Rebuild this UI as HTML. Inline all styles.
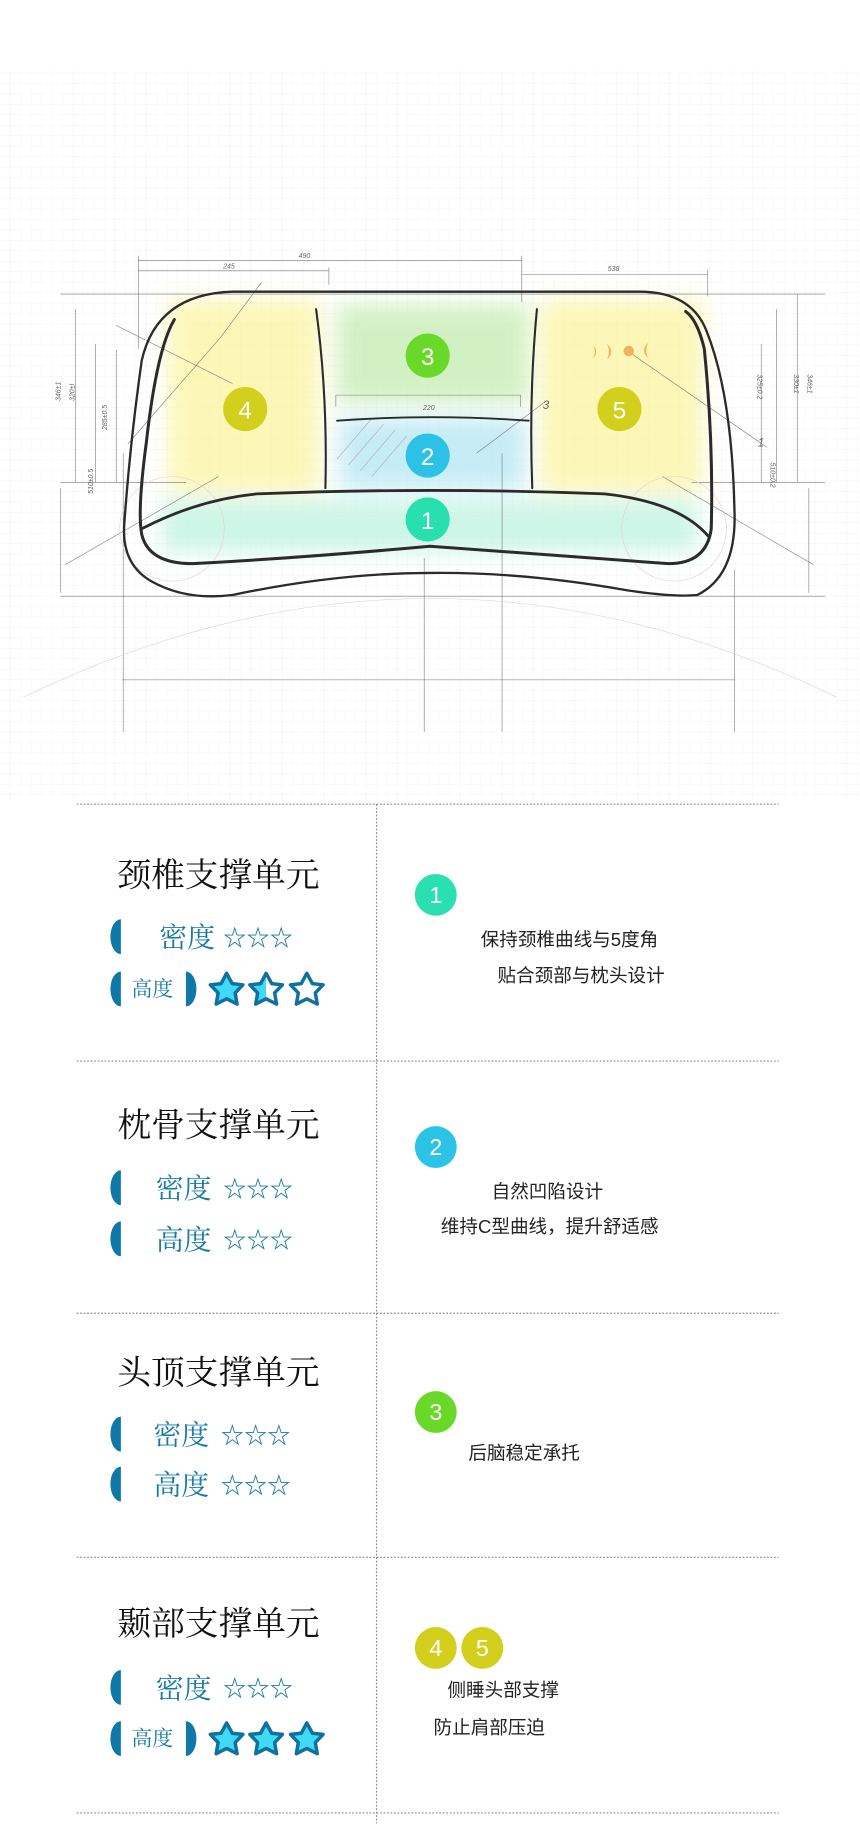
<!DOCTYPE html>
<html><head><meta charset="utf-8"><style>
html,body{margin:0;padding:0;background:#fff;}
svg{display:block;}
.t{font-family:"Liberation Serif","Noto Serif CJK SC",serif;}
.s{font-family:"Liberation Sans","Noto Sans CJK SC",sans-serif;}
</style></head><body>
<svg width="860" height="1824" viewBox="0 0 740 1569.5" xmlns="http://www.w3.org/2000/svg">
<defs>
<pattern id="g" width="9" height="9" patternUnits="userSpaceOnUse"><path d="M9 0V9H0" fill="none" stroke="#eef0f2" stroke-width="0.6"/></pattern>
<filter id="b" x="-30%" y="-30%" width="160%" height="160%"><feGaussianBlur stdDeviation="9"/></filter>
<path id="st" d="M0,-14.5 L4.8,-5.6 14,-4.6 7.3,2.4 9,12 0,7.5 -9,12 -7.3,2.4 -14,-4.6 -4.8,-5.6Z"/>
<linearGradient id="half"><stop offset="50%" stop-color="#40daf6"/><stop offset="50%" stop-color="#fff"/></linearGradient>
</defs>
<rect x="0" y="60" width="740" height="630" fill="url(#g)"/>
<g filter="url(#b)" opacity="0.75">
<rect x="145" y="258" width="130" height="165" fill="#fbf4a0"/>
<rect x="465" y="258" width="140" height="165" fill="#fbf4a0"/>
<rect x="290" y="262" width="165" height="85" fill="#c4edb0"/>
<rect x="292" y="360" width="160" height="60" fill="#b4e6f4"/>
<rect x="140" y="430" width="460" height="45" fill="#bdf3e0"/>
</g>
<g stroke="#777" stroke-width="0.5" fill="none">
<path d="M119 224H449M119 233H283M449 236H609M119 220V300M449 220V260M609 232V255M283 230V245"/>
<path d="M52 253H710M65 266V415M82 296V415M100 301V415M52 415H160M595 415H710M655 296V415M668 266V415M686 253V415M52 513H710"/>
<path d="M52 420V510M696 420V510M56 486L188 410M700 486L570 410M100 280L200 330M190 290L225 243M110 382L190 290M540 302L660 385M410 390L470 345"/>
<path d="M106 390V630M432 390V630M365 480V630M632 490V630M105 585H632M289 340H448M289 340V350M448 340V350"/>
<path d="M290 395L320 360M300 400L330 365M310 405L340 370M320 410L350 375" stroke="#aaa"/>
<path d="M20 600Q370 430 720 600" stroke="#e8c8c8"/>
<circle cx="148" cy="455" r="45" stroke="#e8cccc"/><circle cx="580" cy="455" r="45" stroke="#e8cccc"/>
</g>
<g fill="#666" font-size="6" class="s" font-style="italic">
<text x="257" y="222">490</text><text x="192" y="231">245</text><text x="523" y="233">538</text><text x="364" y="353">220</text><text x="467" y="352" font-size="10">3</text><text x="652" y="384" font-size="10">1</text>
<text transform="translate(52,345) rotate(-90)">346±1</text><text transform="translate(64,345) rotate(-90)">320±l</text><text transform="translate(92,370) rotate(-90)">285±0.5</text><text transform="translate(80,425) rotate(-90)">510±0.5</text>
<text transform="translate(652,322) rotate(90)">325±0.2</text><text transform="translate(663,398) rotate(90)">510±0.2</text><text transform="translate(683,322) rotate(90)">330±1</text><text transform="translate(695,322) rotate(90)">346±1</text>
</g>
<g fill="none" stroke="#2b2b2b" stroke-linecap="round">
<path d="M200 251 L550 251 Q595 251 608 285 Q630 340 632 440 Q634 495 600 512 Q580 514 540 508 Q450 492 370 493 Q290 493 200 512 Q160 517 130 500 Q104 485 107 450 Q112 380 122 310 Q135 253 200 251 Z" stroke-width="2"/>
<path d="M150 275 Q135 300 126 380 Q118 440 122 460 Q128 485 166 485 Q260 480 370 470 Q480 478 575 485 Q608 485 612 455 Q614 380 606 300 Q600 275 590 268" stroke-width="2.6"/>
<path d="M122 455 Q170 430 221 425 Q370 419 520 425 Q585 432 610 462" stroke-width="2.4"/>
<path d="M272 266 Q282 340 280 420" stroke-width="1.8"/>
<path d="M462 266 Q455 340 458 420" stroke-width="1.8"/>
<path d="M290 362 Q370 356 455 362" stroke-width="1.6"/>
</g>
<g fill="#f1b260"><circle cx="541" cy="302" r="4.5"/><path d="M510 297a5 6 0 0 1 0 11a3 6 0 0 0 0-11Z"/><path d="M522 296a6 7 0 0 1 0 13a3 7 0 0 0 0-13Z"/><path d="M558 295a6 7 0 0 0 0 13a3 7 0 0 1 0-13Z"/></g>
<g class="s" font-size="21" fill="#fff" text-anchor="middle">
<circle cx="211" cy="352" r="19" fill="#d2d01c"/><text x="211" y="360">4</text>
<circle cx="368" cy="306" r="19" fill="#6ad828"/><text x="368" y="314">3</text>
<circle cx="533" cy="352" r="19" fill="#d2d01c"/><text x="533" y="360">5</text>
<circle cx="368" cy="392" r="19" fill="#2cc2e6"/><text x="368" y="400">2</text>
<circle cx="368" cy="447" r="19" fill="#28e0ae"/><text x="368" y="455">1</text>
</g>
<g stroke="#888" stroke-width="1" stroke-dasharray="1.5,1.5" fill="none">
<path d="M66 692H670M66 913H670M66 1130H670M66 1340H670M66 1560H670M324 692V1569"/>
</g>
<g class="t" font-size="29" fill="#111" text-anchor="middle">
<text x="188" y="763">颈椎支撑单元</text><text x="188" y="978">枕骨支撑单元</text><text x="188" y="1191">头顶支撑单元</text><text x="188" y="1407">颞部支撑单元</text>
</g>
<g fill="#0f78a8">
<path d="M104 791a9 15 0 0 0 0 30Z"/><path d="M104 836a9 15 0 0 0 0 30Z"/><path d="M160 836a9 15 0 0 1 0 30Z"/>
<path d="M104 1007a9 15 0 0 0 0 30Z"/><path d="M104 1051a9 15 0 0 0 0 30Z"/>
<path d="M104 1219a9 15 0 0 0 0 30Z"/><path d="M104 1262a9 15 0 0 0 0 30Z"/>
<path d="M104 1437a9 15 0 0 0 0 30Z"/><path d="M104 1481a9 15 0 0 0 0 30Z"/><path d="M160 1481a9 15 0 0 1 0 30Z"/>
</g>
<g class="t" fill="#1a7aa6">
<text x="137" y="815" font-size="24">密度</text><text x="192" y="814" font-size="20">☆☆☆</text>
<text x="113" y="857" font-size="18">高度</text>
<text x="134" y="1031" font-size="24">密度</text><text x="192" y="1030" font-size="20">☆☆☆</text>
<text x="134" y="1075" font-size="24">高度</text><text x="192" y="1074" font-size="20">☆☆☆</text>
<text x="132" y="1243" font-size="24">密度</text><text x="190" y="1242" font-size="20">☆☆☆</text>
<text x="132" y="1286" font-size="24">高度</text><text x="190" y="1285" font-size="20">☆☆☆</text>
<text x="134" y="1461" font-size="24">密度</text><text x="192" y="1460" font-size="20">☆☆☆</text>
<text x="113" y="1502" font-size="18">高度</text>
</g>
<g stroke="#10709e" stroke-width="3" stroke-linejoin="round">
<use href="#st" x="195" y="852" fill="#40daf6"/><use href="#st" x="229" y="852" fill="url(#half)"/><use href="#st" x="264" y="852" fill="#fff"/>
<use href="#st" x="195" y="1497" fill="#40daf6"/><use href="#st" x="229" y="1497" fill="#40daf6"/><use href="#st" x="264" y="1497" fill="#40daf6"/>
</g>
<g class="s" font-size="20" fill="#fff" text-anchor="middle">
<circle cx="375" cy="770" r="18" fill="#2ae0b0"/><text x="375" y="777">1</text>
<circle cx="375" cy="987" r="18" fill="#2cc4e6"/><text x="375" y="994">2</text>
<circle cx="375" cy="1215" r="18" fill="#6ad828"/><text x="375" y="1222">3</text>
<circle cx="375" cy="1418" r="18" fill="#d2d01c"/><text x="375" y="1425">4</text>
<circle cx="415" cy="1418" r="18" fill="#d2d01c"/><text x="415" y="1425">5</text>
</g>
<g class="s" font-size="16" fill="#222" text-anchor="middle">
<text x="490" y="814">保持颈椎曲线与5度角</text><text x="500" y="845">贴合颈部与枕头设计</text>
<text x="471" y="1031">自然凹陷设计</text><text x="473" y="1061">维持C型曲线，提升舒适感</text>
<text x="451" y="1256">后脑稳定承托</text>
<text x="433" y="1460">侧睡头部支撑</text><text x="421" y="1492">防止肩部压迫</text>
</g>
</svg>
</body></html>
